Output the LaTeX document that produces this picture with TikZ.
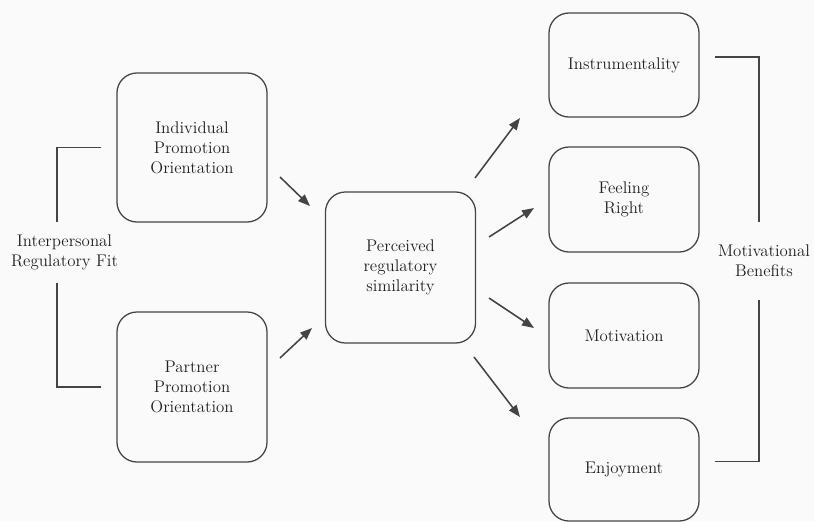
\documentclass[tikz,border=0pt]{standalone}
\usetikzlibrary{calc,arrows.meta}
\definecolor{inkline}{HTML}{444444}
\definecolor{inktext}{HTML}{222222}
\definecolor{paper}{HTML}{FAFAFA}

\begin{document}
\begin{tikzpicture}[x=0.025cm,y=-0.025cm,
	box/.style={draw=inkline,line width=0.9pt,rounded corners=0.5cm,minimum width=3.75cm,inner sep=0pt,align=center,text=inktext,font=\fontsize{12}{14.3}\selectfont},
	lbl/.style={inner sep=0pt,align=center,text=inktext,font=\fontsize{12}{14.3}\selectfont},
	arr/.style={-{Triangle[length=8.5pt,width=6.5pt]},draw=inkline,line width=1.1pt},
	brk/.style={draw=inkline,line width=0.9pt}]
		\fill [paper] (0,0) rectangle (814,521);
		\useasboundingbox (0,0) rectangle (814,521);

		% left column
		\node [box,minimum height=3.725cm] (ind) at (192,147.5) {Individual\\Promotion\\Orientation};
		\node [box,minimum height=3.75cm] (par) at (192,387) {Partner\\Promotion\\Orientation};
		% middle
		\node [box,minimum height=3.775cm] (per) at (400.5,267.5) {Perceived\\regulatory\\similarity};
		% right column
		\node [box,minimum height=2.6cm] (ins) at (624,65) {Instrumentality};
		\node [box,minimum height=2.625cm] (fee) at (624,199.5) {Feeling\\Right};
		\node [box,minimum height=2.625cm] (mot) at (624,335.5) {Motivation};
		\node [box,minimum height=2.575cm] (enj) at (624,469.5) {Enjoyment};

		% bracket labels
		\node [lbl,minimum height=1.525cm] (fit) at (64.5,252.5) {Interpersonal\\Regulatory Fit};
		\node [lbl,minimum height=1.95cm] (ben) at (764,261) {Motivational\\Benefits};
		\coordinate (fitx) at (57,0);
		\coordinate (benx) at (759,0);

		\draw [brk] ($(ind.west)+(-15,0)$) -| (fit.north -| fitx);
		\draw [brk] ($(par.west)+(-15,0)$) -| (fit.south -| fitx);
		\draw [brk] ($(ins.east)+(15,-8)$) -| (ben.north -| benx);
		\draw [brk] ($(enj.east)+(15,-8)$) -| (ben.south -| benx);

		% arrow ends
		\coordinate (a1) at (280,177);   \coordinate (b1) at (310,206);
		\coordinate (a2) at (280,358);   \coordinate (b2) at (312,328);
		\coordinate (c1) at (475,178);   \coordinate (d1) at (520,118);
		\coordinate (c2) at (489,237);   \coordinate (d2) at (534,208);
		\coordinate (c3) at (489,298);   \coordinate (d3) at (534,328);
		\coordinate (c4) at (474,357);   \coordinate (d4) at (520,417);

		\draw [arr] (a1) -- (b1);
		\draw [arr] (a2) -- (b2);
		\draw [arr] (c1) -- (d1);
		\draw [arr] (c2) -- (d2);
		\draw [arr] (c3) -- (d3);
		\draw [arr] (c4) -- (d4);
\end{tikzpicture}
\end{document}
